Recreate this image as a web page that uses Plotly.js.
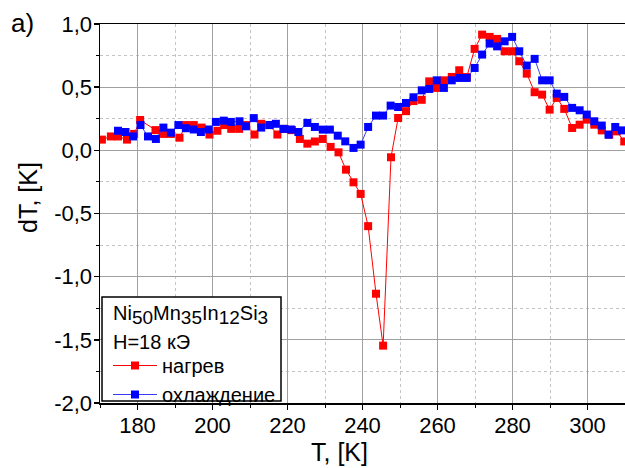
<!DOCTYPE html>
<html>
<head>
<meta charset="utf-8">
<script src="https://cdn.plot.ly/plotly-3.0.1.min.js"></script>
<style>html,body{margin:0;padding:0;background:#fff;}#chart{width:625px;height:468px;}</style>
</head>
<body>
<div id="chart"></div>
<script>
// heating (нагрев)
var redT = [170.5,172.9,174.8,177.2,179.1,180.7,184.8,186.8,188.9,191.2,192.9,195.0,197.1,199.2,201.3,203.1,205.0,207.1,209.0,211.2,213.0,215.2,217.3,219.2,221.2,223.3,225.3,227.3,229.4,231.5,233.6,235.6,237.6,239.5,241.5,243.6,245.5,247.6,249.5,251.6,253.6,255.8,257.8,259.8,261.7,263.8,265.8,267.8,269.9,271.9,273.9,275.9,277.9,279.9,281.8,283.8,285.9,287.9,289.9,291.8,293.8,295.9,297.9,299.8,301.8,303.8,305.8,307.8,309.8];
var redDT = [0.085,0.11,0.11,0.085,0.13,0.24,0.16,0.13,0.13,0.10,0.20,0.20,0.18,0.125,0.155,0.20,0.17,0.17,0.20,0.125,0.21,0.20,0.125,0.17,0.16,0.09,0.053,0.07,0.09,0.027,-0.016,-0.153,-0.253,-0.345,-0.60,-1.135,-1.546,-0.055,0.256,0.31,0.39,0.40,0.546,0.494,0.554,0.581,0.634,0.58,0.803,0.916,0.898,0.882,0.784,0.784,0.705,0.607,0.46,0.441,0.322,0.415,0.328,0.177,0.203,0.243,0.203,0.158,0.124,0.15,0.07];
// cooling (охлаждение)
var blueT = [174.8,176.8,178.8,180.8,182.8,184.9,186.9,188.9,190.9,192.9,195.0,196.9,199.0,200.9,203.0,204.9,207.2,208.9,211.0,213.0,215.2,216.9,218.9,220.9,222.9,225.3,227.3,229.4,231.3,233.4,235.4,237.6,239.5,241.5,243.6,245.5,247.5,249.5,251.6,253.6,255.8,257.8,259.8,261.7,263.8,265.8,267.8,269.9,271.9,273.9,275.9,277.9,279.9,281.8,283.8,285.9,287.9,289.9,291.8,293.8,295.9,297.9,299.8,301.8,303.8,305.6,307.4,309.2];
var blueDT = [0.155,0.145,0.11,0.20,0.11,0.09,0.18,0.14,0.20,0.175,0.165,0.145,0.165,0.225,0.235,0.225,0.23,0.19,0.255,0.18,0.20,0.21,0.17,0.165,0.145,0.217,0.185,0.164,0.164,0.116,0.071,0.019,0.045,0.185,0.275,0.275,0.354,0.343,0.375,0.42,0.475,0.486,0.554,0.494,0.554,0.573,0.573,0.652,0.758,0.845,0.823,0.863,0.898,0.784,0.671,0.724,0.554,0.554,0.449,0.423,0.336,0.317,0.283,0.23,0.196,0.124,0.185,0.158];

var xTickVals = [180,200,220,240,260,280,300];
var xTickText = ['180','200','220','240','260','280','300'];
var yTickVals = [1,0.5,0,-0.5,-1,-1.5,-2];
var yTickText = ['1,0','0,5','0,0','-0,5','-1,0','-1,5','-2,0'];

var seriesNames = ['нагрев','охлаждение'];
var sampleLine1 = 'Ni<sub><span style="font-size:19px">50</span></sub>Mn<sub><span style="font-size:19px">35</span></sub>In<sub><span style="font-size:19px">12</span></sub>Si<sub><span style="font-size:19px">3</span></sub>';
var sampleLine2 = 'H=18 кЭ';

var FONT = 'Liberation Sans, Arial, sans-serif';

var traces = [
  {x: redT, y: redDT, name: seriesNames[0], type: 'scatter', mode: 'lines+markers',
   line: {color: '#ff0000', width: 1},
   marker: {symbol: 'square', size: 8, color: '#ff0000', line: {width: 0}}},
  {x: blueT, y: blueDT, name: seriesNames[1], type: 'scatter', mode: 'lines+markers',
   line: {color: '#3a3aff', width: 1},
   marker: {symbol: 'square', size: 8, color: '#0000ff', line: {width: 0}}}
];

var axisCommon = {
  showline: true, linecolor: '#000', linewidth: 1.5, mirror: true,
  ticks: 'outside', ticklen: 5, tickwidth: 1.5, tickcolor: '#000',
  showgrid: true, gridcolor: '#a0a0a0', gridwidth: 1.2, zeroline: false,
  ticklabelstandoff: -3,
  tickfont: {family: FONT, size: 22, color: '#000'}
};

function px2x(p) { return (p - 100) / 525; }
function px2y(p) { return (403 - p) / 379; }

var layout = {
  width: 625, height: 468,
  margin: {l: 100, r: 0, t: 24, b: 65},
  paper_bgcolor: '#fff', plot_bgcolor: '#fff',
  font: {family: FONT, color: '#000'},
  showlegend: true,
  xaxis: Object.assign({}, axisCommon, {
    range: [170, 310], tickmode: 'array', tickvals: xTickVals, ticktext: xTickText,
    minor: {tickmode: 'linear', tick0: 170, dtick: 10, ticks: 'outside', ticklen: 3, tickcolor: '#000', tickwidth: 1,
            showgrid: true, gridcolor: '#c4c4c4', griddash: 'dot', gridwidth: 1}
  }),
  yaxis: Object.assign({}, axisCommon, {
    range: [-2, 1], tickmode: 'array', tickvals: yTickVals, ticktext: yTickText,
    minor: {tickmode: 'linear', tick0: 0, dtick: 0.25, ticks: 'outside', ticklen: 3, tickcolor: '#000', tickwidth: 1,
            showgrid: true, gridcolor: '#c4c4c4', griddash: 'dot', gridwidth: 1}
  }),
  legend: {
    x: px2x(108), y: px2y(346), xanchor: 'left', yanchor: 'top',
    bgcolor: 'rgba(0,0,0,0)', borderwidth: 0,
    font: {family: FONT, size: 20, color: '#000'},
    itemwidth: 44, tracegroupgap: 0
  },
  shapes: [
    {type: 'rect', xref: 'paper', yref: 'paper', x0: px2x(102), x1: px2x(281), y0: px2y(401), y1: px2y(297),
     line: {color: '#000', width: 1.5}, fillcolor: '#fff', layer: 'above'}
  ],
  annotations: [
    {text: sampleLine1, xref: 'paper', yref: 'paper', x: px2x(111), y: px2y(315), xanchor: 'left', yanchor: 'middle',
     showarrow: false, font: {family: FONT, size: 20, color: '#000'}},
    {text: sampleLine2, xref: 'paper', yref: 'paper', x: px2x(111), y: px2y(342), xanchor: 'left', yanchor: 'middle',
     showarrow: false, font: {family: FONT, size: 20, color: '#000'}},
    {text: 'a)', xref: 'paper', yref: 'paper', x: px2x(22), y: px2y(23), xanchor: 'center', yanchor: 'middle',
     showarrow: false, font: {family: FONT, size: 26, color: '#000'}},
    {text: 'T, [K]', xref: 'paper', yref: 'paper', x: px2x(339), y: px2y(452), xanchor: 'center', yanchor: 'middle',
     showarrow: false, font: {family: FONT, size: 25, color: '#000'}},
    {text: 'dT, [K]', xref: 'paper', yref: 'paper', x: px2x(28), y: px2y(198), xanchor: 'center', yanchor: 'middle',
     textangle: -90, showarrow: false, font: {family: FONT, size: 25, color: '#000'}}
  ]
};

Plotly.newPlot('chart', traces, layout, {displayModeBar: false, staticPlot: true});
</script>
</body>
</html>
